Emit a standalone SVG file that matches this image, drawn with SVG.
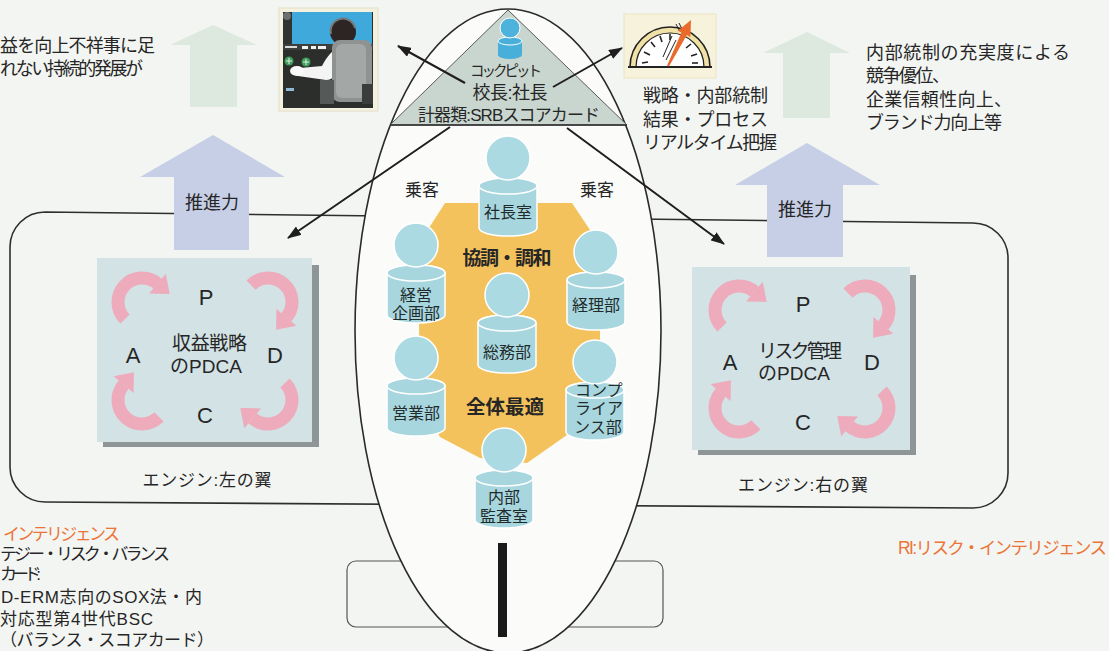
<svg xmlns="http://www.w3.org/2000/svg" xmlns:xlink="http://www.w3.org/1999/xlink" width="1109" height="651" viewBox="0 0 1109 651">
  <style>
    .t{font-family:"Liberation Sans","Noto Sans CJK JP",sans-serif;fill:#262626}
    .lat{font-family:"Liberation Sans",Arial,sans-serif;fill:#262626}
    .or{fill:#ec7436}
    .nd{fill:#1f2b2b;font-size:16px}
    .body{fill:#a8d6de;stroke:#ffffff;stroke-width:1.5}
    .head{fill:#acdae2;stroke:#ffffff;stroke-width:1.5}
    .bg{fill:#dde8de}
    .bb{fill:#c7cfe6}
    .pdca{fill:#d2e2e5}
    .shadow{fill:#8e9597}
    .cyc{fill:#f0a6b7;opacity:0.92}
    .conn{stroke:#1e1e1e;stroke-width:2;fill:none;marker-end:url(#ah)}
  </style>
  <defs>
    <marker id="ah" viewBox="0 0 14 10" refX="13" refY="5" markerWidth="14" markerHeight="10" markerUnits="userSpaceOnUse" orient="auto">
      <path d="M0,0 L14,5 L0,10 z" fill="#1e1e1e"/>
    </marker>
    <!-- curved cycle arrow, drawn around its own centre -->
    <g id="cyc">
      <path d="M -16.97 16.97 A 24 24 0 0 1 15.43 -18.38" fill="none" stroke="#f0a6b7" stroke-width="13" opacity="0.92"/>
      <polygon class="cyc" points="23.79,-28.34 7.07,-8.42 27.69,-8.09"/>
    </g>
    <!-- department figure: origin at top centre of the body -->
    <g id="person">
      <path class="body" d="M -29 8 A 29 8 0 0 1 29 8 V 50 A 29 8 0 0 1 -29 50 Z"/>
      <ellipse class="body" cx="0" cy="8" rx="29" ry="8"/>
      <circle class="head" cx="0" cy="-20" r="22"/>
    </g>
  </defs>

  <!-- page -->
  <rect width="1109" height="651" fill="#f3f5f2"/>

  <!-- wings -->
  <path id="wings" d="M 45 212 L 973 223 A 35 35 0 0 1 1008 258 L 1008 473 A 35 35 0 0 1 973 508 L 45 502 A 35 35 0 0 1 10 467 L 10 247 A 35 35 0 0 1 45 212 Z" fill="none" stroke="#2e2e2e" stroke-width="1.6"/>
  <!-- tail plane -->
  <rect id="tail" x="347" y="561" width="316" height="66" rx="9" fill="none" stroke="#555" stroke-width="1.2"/>

  <!-- fuselage -->
  <ellipse id="fuselage" cx="508" cy="331" rx="153" ry="322" fill="#fbfcfa" stroke="#2a2a2a" stroke-width="1.6"/>
  <rect x="498" y="543" width="9" height="94" fill="#1a1a1a"/>

  <!-- thrust arrows -->
  <g id="thrust">
    <polygon class="bg" points="213,25 257,45 237,45 237,107 190,107 190,45 170,45"/>
    <polygon class="bb" points="213,135 285,177 249,177 249,250 174,250 174,177 140,177"/>
    <text class="t" x="212" y="209" font-size="18" text-anchor="middle">推進力</text>
    <polygon class="bg" points="807,32 850,53 830,53 830,118 783,118 783,53 763,53"/>
    <polygon class="bb" points="807,143 880,185 843,185 843,257 767,257 767,185 735,185"/>
    <text class="t" x="805" y="216" font-size="18" text-anchor="middle">推進力</text>
  </g>

  <!-- left engine -->
  <g id="engine-left">
    <rect class="shadow" x="103" y="265" width="216" height="182"/>
    <rect class="pdca" x="97" y="258" width="215" height="184"/>
    <use xlink:href="#cyc" transform="translate(142,302)"/>
    <use xlink:href="#cyc" transform="translate(268,302) rotate(90)"/>
    <use xlink:href="#cyc" transform="translate(268,400) rotate(180)"/>
    <use xlink:href="#cyc" transform="translate(142,400) rotate(270)"/>
    <text class="lat" x="206" y="305" font-size="22" text-anchor="middle">P</text>
    <text class="lat" x="133" y="363" font-size="22" text-anchor="middle">A</text>
    <text class="lat" x="275" y="363" font-size="22" text-anchor="middle">D</text>
    <text class="lat" x="205" y="423" font-size="22" text-anchor="middle">C</text>
    <text class="t" x="172" y="350" font-size="19" textLength="75">収益戦略</text>
    <text class="t" x="170" y="373" font-size="19" textLength="72">のPDCA</text>
    <text class="t" x="207" y="486" font-size="17" text-anchor="middle" textLength="129">エンジン:左の翼</text>
  </g>

  <!-- right engine -->
  <g id="engine-right">
    <rect class="shadow" x="698" y="275" width="218" height="180"/>
    <rect class="pdca" x="692" y="267" width="218" height="183"/>
    <use xlink:href="#cyc" transform="translate(739,310)"/>
    <use xlink:href="#cyc" transform="translate(865,310) rotate(90)"/>
    <use xlink:href="#cyc" transform="translate(865,408) rotate(180)"/>
    <use xlink:href="#cyc" transform="translate(739,408) rotate(270)"/>
    <text class="lat" x="803" y="312" font-size="22" text-anchor="middle">P</text>
    <text class="lat" x="730" y="370" font-size="22" text-anchor="middle">A</text>
    <text class="lat" x="872" y="370" font-size="22" text-anchor="middle">D</text>
    <text class="lat" x="803" y="430" font-size="22" text-anchor="middle">C</text>
    <text class="t" x="758" y="358" font-size="19" textLength="84">リスク管理</text>
    <text class="t" x="758" y="380" font-size="19" textLength="72">のPDCA</text>
    <text class="t" x="803" y="491" font-size="17" text-anchor="middle" textLength="130">エンジン:右の翼</text>
  </g>

  <!-- cockpit -->
  <g id="cockpit">
    <polygon points="508,10 390,125 627,125" fill="#c9d6cf" stroke="#5a5a5a" stroke-width="1"/>
    <line x1="390" y1="125" x2="627" y2="125" stroke="#2a2a2a" stroke-width="1.6"/>
    <path d="M 498 41 A 12 4 0 0 1 522 41 V 55 A 12 4 0 0 1 498 55 Z" fill="#48afdb"/>
    <ellipse cx="510" cy="41" rx="12" ry="4" fill="#48afdb" stroke="#ffffff" stroke-width="1"/>
    <circle cx="510" cy="28" r="10" fill="#4db2dc" stroke="#ffffff" stroke-width="1"/>
    <text class="t" x="506" y="76" font-size="14.5" text-anchor="middle" textLength="72">コックピット</text>
    <text class="t" x="510" y="99" font-size="18" text-anchor="middle" textLength="75">校長:社長</text>
    <text class="t" x="509" y="121" font-size="17" text-anchor="middle" textLength="182">計器類:SRBスコアカード</text>
  </g>

  <!-- cabin -->
  <g id="cabin">
    <polygon points="445,203 572,203 600,245 600,400 567,435 527,463 480,458 440,437 420,400 418,245" fill="#f4c25c"/>
    <text class="t" x="422" y="196" font-size="17" text-anchor="middle">乗客</text>
    <text class="t" x="597" y="196" font-size="17" text-anchor="middle">乗客</text>
    <text class="t" x="507" y="265" font-size="19" font-weight="bold" text-anchor="middle" textLength="89">協調・調和</text>
    <text class="t" x="505" y="414" font-size="19.5" font-weight="bold" text-anchor="middle">全体最適</text>
  </g>

  <g id="president">
    <use xlink:href="#person" x="508" y="178"/>
    <text class="t nd" x="508" y="218" text-anchor="middle">社長室</text>
  </g>
  <g id="planning">
    <use xlink:href="#person" x="416" y="265"/>
    <text class="t nd" x="416" y="301" text-anchor="middle">経営</text>
    <text class="t nd" x="416" y="319" text-anchor="middle">企画部</text>
  </g>
  <g id="accounting">
    <use xlink:href="#person" x="596" y="272"/>
    <text class="t nd" x="596" y="311" text-anchor="middle">経理部</text>
  </g>
  <g id="general-affairs">
    <use xlink:href="#person" x="507" y="315"/>
    <text class="t nd" x="507" y="358" text-anchor="middle">総務部</text>
  </g>
  <g id="sales">
    <use xlink:href="#person" x="416" y="378"/>
    <text class="t nd" x="416" y="419" text-anchor="middle">営業部</text>
  </g>
  <g id="compliance">
    <use xlink:href="#person" x="595" y="382"/>
    <text class="t nd" x="575" y="396">コンプ</text>
    <text class="t nd" x="575" y="414">ライア</text>
    <text class="t nd" x="574" y="433">ンス部</text>
  </g>
  <g id="audit">
    <use xlink:href="#person" x="504" y="470"/>
    <text class="t nd" x="504" y="503" text-anchor="middle">内部</text>
    <text class="t nd" x="504" y="522" text-anchor="middle">監査室</text>
  </g>

  <!-- pilot picture -->
  <g id="pilot">
    <rect x="279" y="8" width="99" height="103" fill="#f4f1e0" stroke="#e4dec2" stroke-width="1"/>
    <rect x="283" y="12" width="90" height="96" fill="#2b2e2a"/>
    <rect x="290" y="12" width="82" height="32" fill="#3fa9dc"/>
    <rect x="283" y="12" width="9" height="34" fill="#303330"/>
    <circle cx="287" cy="16" r="4" fill="#6d716e"/>
    <rect x="283" y="44" width="90" height="6" fill="#3c3f3b"/>
    <rect x="302" y="46" width="6" height="3" fill="#f2f2f2"/>
    <rect x="311" y="46" width="5" height="3" fill="#f2f2f2"/>
    <rect x="318" y="46" width="8" height="3" fill="#f2f2f2"/>
    <rect x="285" y="46" width="12" height="2" fill="#d9d9d9"/>
    <circle cx="289" cy="61" r="4.5" fill="#3f9d5c"/>
    <circle cx="306" cy="62" r="4.5" fill="#3f9d5c"/>
    <path d="M 286 61 h6 M 289 58 v6 M 303 62 h6 M 306 59 v6" stroke="#dff0e3" stroke-width="1"/>
    <rect x="286" y="88" width="8" height="3" fill="#8fb9d6"/>
    <path d="M 340 46 C 332 50 326 58 322 66 L 300 68 C 294 68 292 74 298 76 L 326 80 C 334 80 338 72 342 64 Z" fill="#f4f4f4"/>
    <ellipse cx="297" cy="71" rx="7" ry="5" fill="#fafafa"/>
    <circle cx="343" cy="32" r="13" fill="#2d2524"/>
    <path d="M 331 34 a 12 12 0 0 1 24 -6" fill="none" stroke="#777" stroke-width="2"/>
    <rect x="332" y="40" width="40" height="62" rx="8" fill="#8e9392"/>
    <rect x="336" y="44" width="30" height="54" rx="6" fill="#a3a8a7"/>
    <rect x="320" y="80" width="14" height="24" fill="#555a58"/>
    <rect x="362" y="84" width="11" height="20" fill="#3a3d3b"/>
  </g>

  <!-- gauge picture -->
  <g id="gauge">
    <rect x="624" y="14" width="92" height="64" fill="#f7f2dc" stroke="#ece4c0" stroke-width="1"/>
    <path d="M 630 67 A 40 40 0 0 1 710 67 Z" fill="#f0e1a6" stroke="#222" stroke-width="1.6"/>
    <path d="M 636 67 A 34 34 0 0 1 704 67 Z" fill="#ffffff" stroke="#222" stroke-width="1.2"/>
    <line x1="628" y1="67" x2="712" y2="67" stroke="#222" stroke-width="2.2"/>
    <g stroke="#222" stroke-width="1.6">
      <line x1="642" y1="63" x2="648" y2="62"/>
      <line x1="644" y1="52" x2="650" y2="55"/>
      <line x1="651" y1="42" x2="655" y2="47"/>
      <line x1="660" y1="36" x2="662" y2="42"/>
      <line x1="670" y1="34" x2="670" y2="40"/>
      <line x1="691" y1="44" x2="686" y2="48"/>
      <line x1="697" y1="54" x2="691" y2="56"/>
      <line x1="698" y1="63" x2="692" y2="63"/>
    </g>
    <path d="M 663 57 L 672 36 M 666 60 L 676 40" stroke="#222" stroke-width="1"/>
    <path d="M 676 24 l 3 6 M 679 23 l 3 6" stroke="#222" stroke-width="1"/>
    <polygon points="667.1,65.6 668.9,66.4 686.8,35.1 690.4,36.9 691,20 677.8,30.7 681.4,32.5" fill="#ea6a2c"/>
  </g>

  <!-- connectors -->
  <g id="connectors">
    <line class="conn" x1="465" y1="83" x2="398" y2="46"/>
    <line class="conn" x1="553" y1="87" x2="622" y2="48"/>
    <line class="conn" x1="450" y1="127" x2="288" y2="238"/>
    <line class="conn" x1="567" y1="128" x2="724" y2="244"/>
  </g>

  <!-- notes -->
  <g id="notes" font-size="18">
    <text class="t" x="0" y="52" textLength="155">益を向上不祥事に足</text>
    <text class="t" x="0" y="75" textLength="143">れない持続的発展が</text>

    <text class="t" x="643" y="102" textLength="125">戦略・内部統制</text>
    <text class="t" x="643" y="126" textLength="125">結果・プロセス</text>
    <text class="t" x="643" y="149" textLength="134">リアルタイム把握</text>

    <text class="t" x="866" y="59" textLength="204">内部統制の充実度による</text>
    <text class="t" x="866" y="82" textLength="84">競争優位、</text>
    <text class="t" x="866" y="106" textLength="146">企業信頼性向上、</text>
    <text class="t" x="866" y="129" textLength="136">ブランド力向上等</text>

    <text class="t or" x="3" y="540" font-size="17" textLength="117">インテリジェンス</text>
    <text class="t" x="0" y="560" font-size="17" textLength="170">テジー・リスク・バランス</text>
    <text class="t" x="0" y="580" font-size="17" textLength="41">カード:</text>
    <text class="t" x="1" y="603" font-size="17" textLength="201">D-ERM志向のSOX法・内</text>
    <text class="t" x="0" y="625" font-size="17" textLength="153">対応型第4世代BSC</text>
    <text class="t" x="0" y="646" font-size="17" textLength="214">（バランス・スコアカード）</text>

    <text class="t or" x="898" y="554" font-size="17.5" textLength="209">RI:リスク・インテリジェンス</text>
  </g>
</svg>
